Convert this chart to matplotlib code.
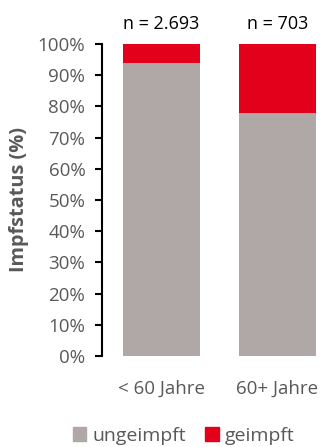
import matplotlib.pyplot as plt
from matplotlib.patches import Patch

# Daten
gruppen = ["< 60 Jahre", "60+ Jahre"]
ungeimpft = [94, 78]
geimpft = [6, 22]
n_labels = ["n = 2.693", "n = 703"]

grau = "#AFA8A7"
rot = "#E2001A"
textgrau = "#595959"

plt.rcParams['font.family'] = ['Open Sans', 'DejaVu Sans']

fig = plt.figure(figsize=(3.22, 4.47), dpi=100)
ax = fig.add_axes([102 / 322, 1 - 356 / 447, 220 / 322, 312 / 447])

x = range(len(gruppen))
ax.bar(x, ungeimpft, width=0.664, color=grau)
ax.bar(x, geimpft, width=0.664, bottom=ungeimpft, color=rot)

for i, txt in enumerate(n_labels):
    ax.text(i, 103.5, txt, ha="center", va="bottom", fontsize=13, color="black")

ax.set_xlim(-0.513, 1.384)
ax.set_ylim(0, 100)
ax.set_yticks(range(0, 101, 10))
ax.set_yticklabels([f"{v}%" for v in range(0, 101, 10)], fontsize=13.5, color=textgrau)
ax.set_xticks(list(x))
ax.set_xticklabels(gruppen, fontsize=13.5, color=textgrau)
ax.tick_params(axis="x", length=0, pad=17)
ax.tick_params(axis="y", length=5, width=1.5, color="black", direction="out", pad=7)

for s in ["top", "right", "bottom"]:
    ax.spines[s].set_visible(False)
ax.spines["left"].set_linewidth(1.5)

ax.set_ylabel("Impfstatus (%)", fontsize=14.3, fontweight="bold", color=textgrau, labelpad=6)

handles = [Patch(color=grau, label="ungeimpft"), Patch(color=rot, label="geimpft")]
fig.legend(handles=handles, loc="center", bbox_to_anchor=(0.57, 1 - 436 / 447), ncol=2,
           frameon=False, fontsize=14, handlelength=0.7, handleheight=0.7,
           handletextpad=0.3, columnspacing=1.0, labelcolor=textgrau)

fig.savefig("out.png", dpi=100)
